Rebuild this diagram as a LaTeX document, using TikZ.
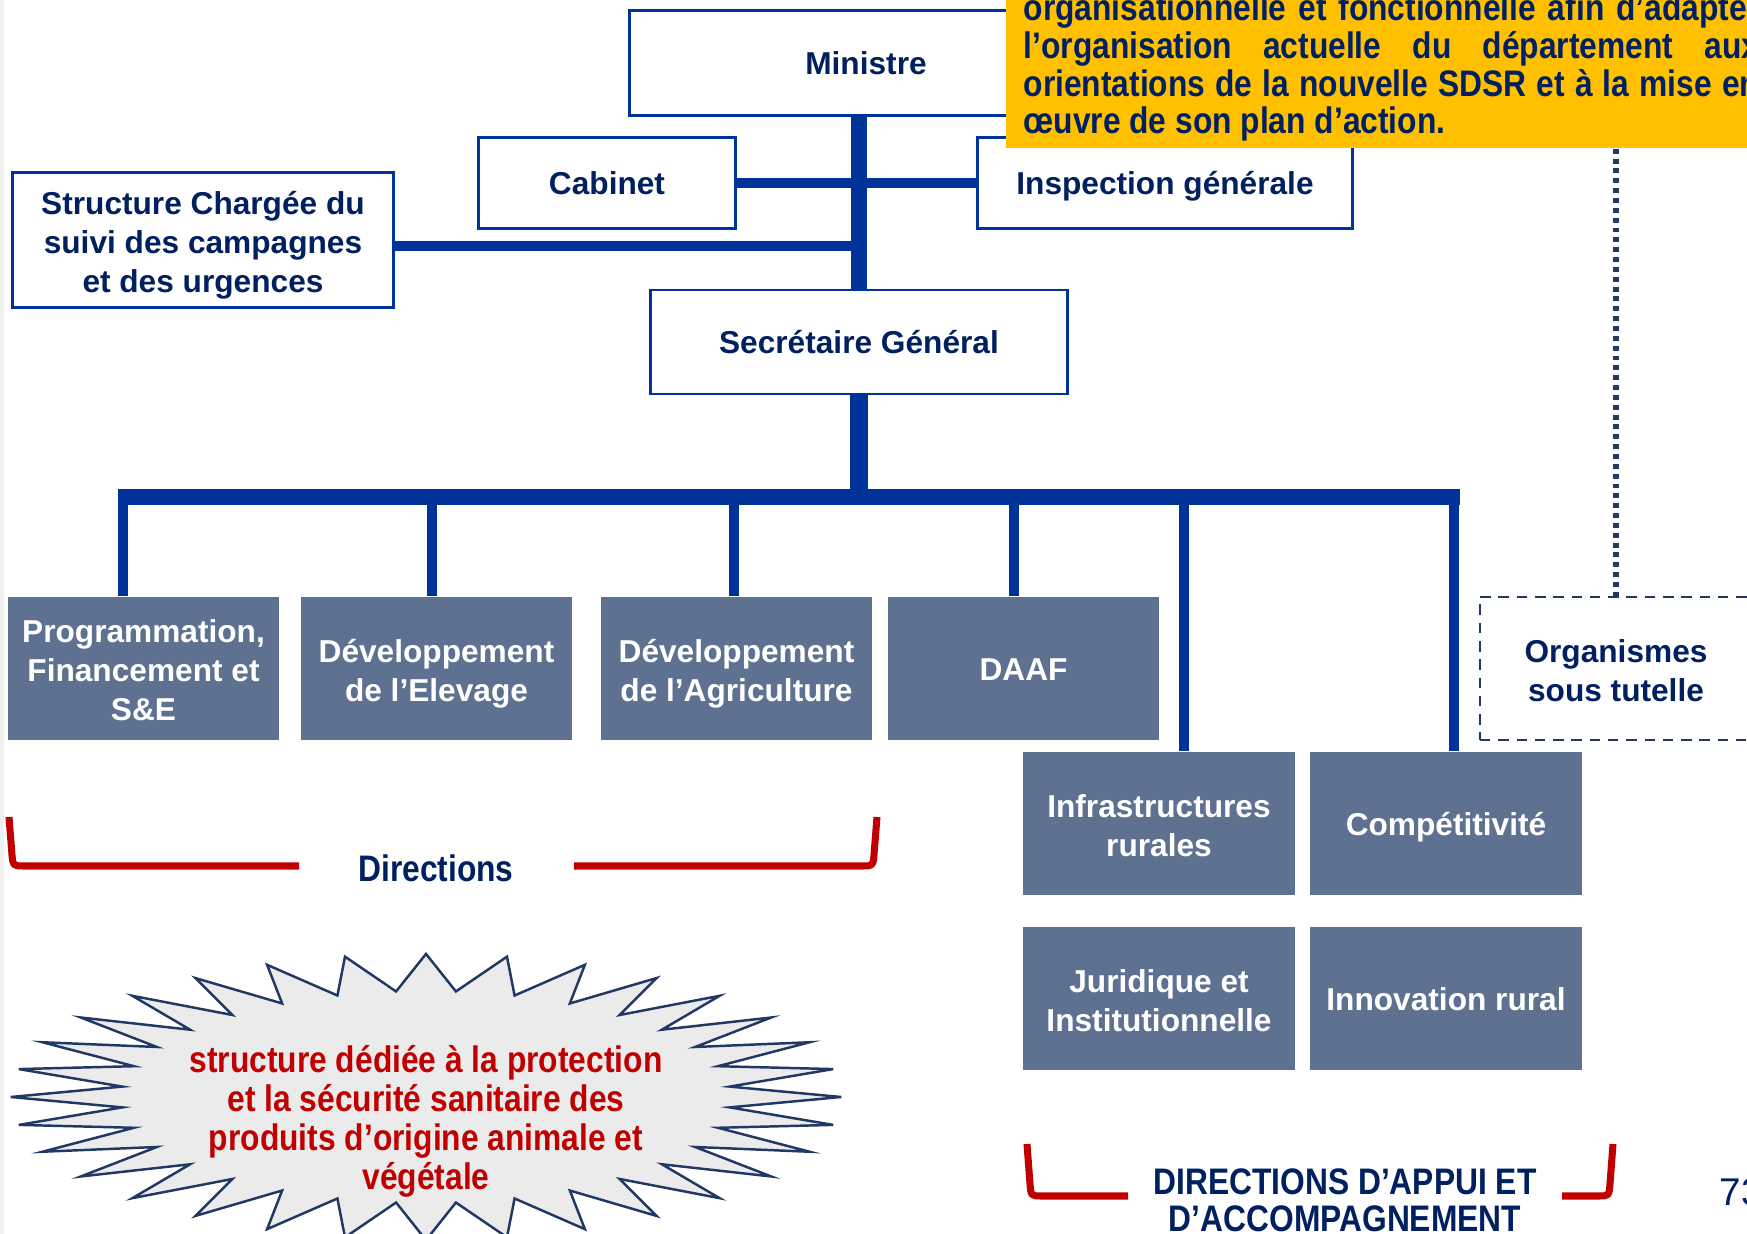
\documentclass[tikz,border=0pt]{standalone}
\usepackage{fontspec}
\setmainfont{Liberation Sans}
\newfontfamily\narrowfont{Liberation Sans}[FakeStretch=0.86]
\usetikzlibrary{positioning}

\definecolor{lineblue}{HTML}{003399}
\definecolor{navy}{HTML}{002060}
\definecolor{greybox}{HTML}{5F7191}
\definecolor{bracketred}{HTML}{C00000}
\definecolor{noteyellow}{HTML}{FFC000}
\definecolor{burstfill}{HTML}{EBEBEB}
\definecolor{burstline}{HTML}{1F3864}

\newcommand{\boxstrut}{\rule[-2pt]{0pt}{10.6pt}}
\newcommand{\tallstrut}{\rule[-2pt]{0pt}{11.5pt}}

\tikzset{
  unit/.style={draw=lineblue, line width=0.8pt, fill=white, text=navy,
    font=\fontsize{9}{11.1}\selectfont\bfseries, align=center, inner sep=0pt,
    execute at begin node=\boxstrut, execute at end node=\boxstrut},
  dept/.style={fill=greybox, text=white, font=\fontsize{9}{11.1}\selectfont\bfseries,
    align=center, minimum width=2.71cm, minimum height=1.43cm, inner sep=0pt,
    execute at begin node=\boxstrut, execute at end node=\boxstrut},
  orgbox/.style={draw=burstline, line width=0.6pt, dash pattern=on 3pt off 2.2pt,
    text=navy, font=\fontsize{9}{11.1}\selectfont\bfseries, align=center,
    minimum width=2.72cm, minimum height=1.43cm, inner sep=0pt},
  link/.style={lineblue, line width=#1},
  dotlink/.style={burstline, line width=1.5pt, dash pattern=on 1.4pt off 1.4pt},
  bracket/.style={bracketred, line width=2pt, line join=round},
  bracklabel/.style={text=navy, font=\narrowfont\fontsize{10.5}{10.5}\selectfont\bfseries,
    align=center, inner sep=0pt},
  notetext/.style={text=navy, font=\narrowfont\fontsize{10.5}{10.8}\selectfont\bfseries,
    inner sep=0pt, anchor=base west},
  burst/.style={draw=burstline, line width=0.7pt, fill=burstfill, line join=miter},
}

\begin{document}
\begin{tikzpicture}[x=0.01cm, y=-0.01cm]
  \useasboundingbox (0,0) rectangle (1747,1234);
  \clip (0,0) rectangle (1747,1234);
  \fill[gray!12] (0,0) rectangle (4,1234);

  % top of the chart
  \node[unit, minimum width=4.72cm, minimum height=1.05cm] (minis) at (866,63) {Ministre};
  \node[unit, minimum width=2.57cm, minimum height=0.91cm] (cab) at (607,183) {Cabinet};
  \node[unit, minimum width=3.74cm, minimum height=0.91cm] (insp) at (1165,183) {Inspection générale};
  \node[unit, minimum width=3.80cm, minimum height=1.35cm] (suivi) at (203,240)
    {\tallstrut Structure Chargée du\\suivi des campagnes\\et des urgences\boxstrut};
  \node[unit, minimum width=4.16cm, minimum height=1.04cm] (sg) at (859,342) {Secrétaire Général};

  \draw[link=4.5pt] (sg.north |- minis.south) -- (sg.north);
  \draw[link=3.1pt] (cab.east) -- (insp.west);
  \draw[link=2.8pt] (suivi.east) ++(0,6) -- (sg.north |- 0,246);

  % yellow note
  \node[fill=noteyellow, minimum width=7.44cm, minimum height=1.53cm, inner sep=0pt] (note) at (1378,71.5) {};
  \node[notetext] (note1) at (1023,21) {\makebox[7.35cm][s]{organisationnelle et fonctionnelle afin d’adapter}};
  \node[notetext] (note2) at (1023,59) {\makebox[7.35cm][s]{l’organisation actuelle du département aux}};
  \node[notetext] (note3) at (1023,96.5) {\makebox[7.35cm][s]{orientations de la nouvelle SDSR et à la mise en}};
  \node[notetext] (note4) at (1023,134) {œuvre de son plan d’action.};

  % directions
  \node[dept] (prog) at (143.5,668.5) {\tallstrut Programmation,\\Financement et\\S\&E\boxstrut};
  \node[dept] (elev) at (436.5,668.5) {\tallstrut Développement\\de l’Elevage\boxstrut};
  \node[dept] (agri) at (736.5,668.5) {\tallstrut Développement\\de l’Agriculture\boxstrut};
  \node[dept] (daaf) at (1023.5,668.5) {DAAF};
  \node[dept] (infra) at (1159,823.5) {\tallstrut Infrastructures\\rurales\boxstrut};
  \node[dept] (comp) at (1446,823.5) {Compétitivité};
  \node[dept] (jur) at (1159,998.5) {\tallstrut Juridique et\\Institutionnelle\boxstrut};
  \node[dept] (innov) at (1446,998.5) {Innovation rural};
  \node[orgbox] (orgs) at (1616,668.5) {\tallstrut Organismes\\sous tutelle\boxstrut};

  \coordinate (bus) at (859,497);
  \draw[link=5.4pt] (sg.south) -- (bus);
  \draw[link=4.3pt] (bus -| 117.5,0) -- (bus -| 1459.5,0);
  \foreach \x/\d in {123/prog, 432/elev, 734/agri, 1014/daaf, 1184/infra, 1454/comp}
    \draw[link=3.1pt] (bus -| \x,0) -- (\d.north -| \x,0);
  \draw[dotlink] (note.south -| orgs.north) -- (orgs.north);

  % brackets
  \node[bracklabel] (dirs) at (436,868) {Directions};
  \draw[bracket] (9,817) -- (12,855) .. controls (13,866) .. (24,866) -- (299,866);
  \draw[bracket] (574,866) -- (862,866) .. controls (873,866) .. (874,855) -- (877,817);
  \node[bracklabel] (appui) at (1345,1200) {DIRECTIONS D’APPUI ET\\D’ACCOMPAGNEMENT};
  \draw[bracket] (1027,1144) -- (1030,1184) .. controls (1031,1196) .. (1042,1196) -- (1128,1196);
  \draw[bracket] (1562,1196) -- (1598,1196) .. controls (1609,1196) .. (1610,1184) -- (1613,1144);

  % starburst
  \begin{scope}[shift={(426,1097)}]
    \draw[burst] (0:4.15cm and 1.43cm)
      \foreach \i in {1,...,31} {-- ({\i*11.25-5.625}:3.05cm and 1.06cm) -- ({\i*11.25}:4.15cm and 1.43cm)}
      -- (354.375:3.05cm and 1.06cm) -- cycle;
  \end{scope}
  \node[text=bracketred, font=\narrowfont\fontsize{10.5}{11.1}\selectfont\bfseries, align=center, inner sep=0pt]
    (protect) at (426,1121)
    {structure dédiée à la protection\\et la sécurité sanitaire des\\produits d’origine animale et\\végétale};

  \node[anchor=west, text=navy, font=\fontsize{11}{13}\selectfont, inner sep=0pt] (page) at (1719,1192) {73};
\end{tikzpicture}
\end{document}
